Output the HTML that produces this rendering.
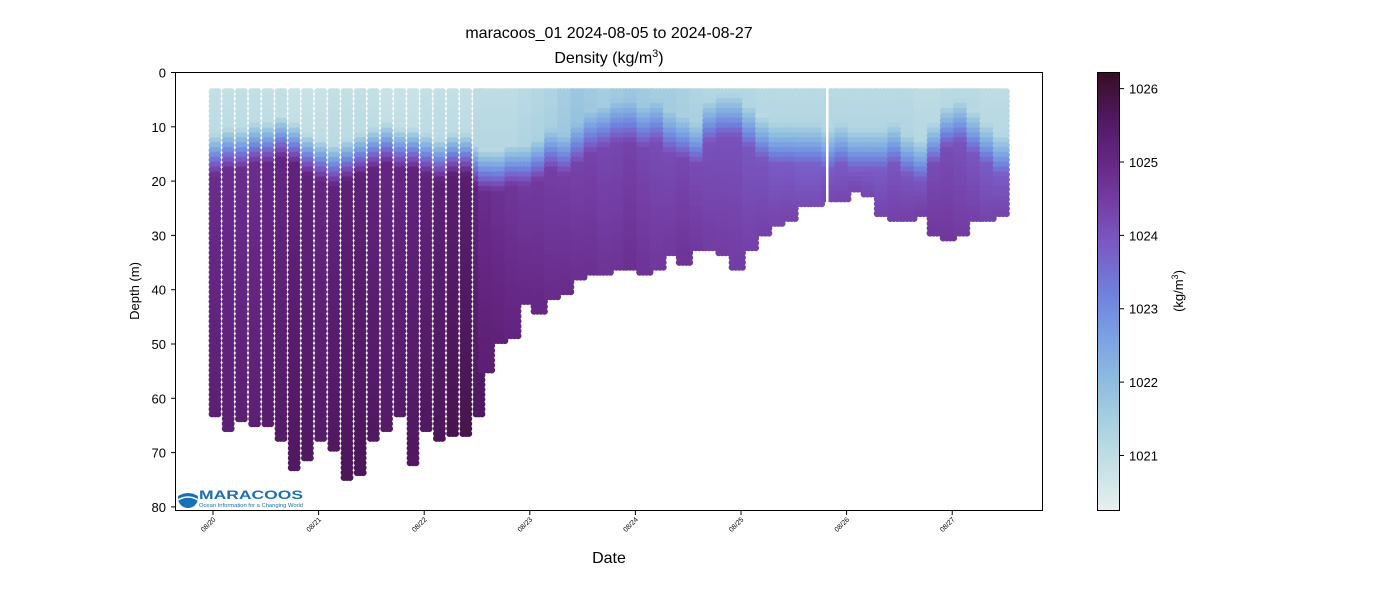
<!DOCTYPE html>
<html><head><meta charset="utf-8"><style>
html,body{margin:0;padding:0;background:#fff;}
svg{display:block;font-family:"Liberation Sans","DejaVu Sans",sans-serif;}
</style></head><body>
<svg id="chart" width="1400" height="600" viewBox="0 0 1400 600" xmlns="http://www.w3.org/2000/svg">
<defs>
<linearGradient id="cbgrad" x1="0" y1="1" x2="0" y2="0">
<stop offset="0" stop-color="#e6f0f0"/><stop offset="0.1" stop-color="#c7e1e6"/>
<stop offset="0.2" stop-color="#a9d0e0"/><stop offset="0.3" stop-color="#8dbbdf"/>
<stop offset="0.4" stop-color="#7aa0e2"/><stop offset="0.5" stop-color="#6f80dc"/>
<stop offset="0.6" stop-color="#7a5cc6"/><stop offset="0.7" stop-color="#743fa6"/>
<stop offset="0.8" stop-color="#652683"/><stop offset="0.9" stop-color="#4f185f"/>
<stop offset="1" stop-color="#360e24"/></linearGradient>
<clipPath id="plotclip"><rect x="176" y="72.5" width="867" height="438"/></clipPath>
</defs>
<text x="609" y="38" font-size="16" text-anchor="middle">maracoos_01 2024-08-05 to 2024-08-27</text>
<text x="609" y="63" font-size="16" text-anchor="middle">Density (kg/m<tspan font-size="11" dy="-6">3</tspan><tspan dy="6">)</tspan></text>
<g id="points" clip-path="url(#plotclip)"></g>
<rect x="175.5" y="72.5" width="867" height="438" fill="none" stroke="#000" stroke-width="1"/>
<g id="yaxis"></g>
<g id="xaxis"></g>
<text transform="translate(139,291) rotate(-90)" font-size="13" text-anchor="middle">Depth (m)</text>
<text x="609" y="563" font-size="16" text-anchor="middle">Date</text>
<g>
<circle cx="188" cy="498" r="10" fill="#1a6fb5"/>
<path d="M178,496 Q188,490 198,496 L198,491 Q188,485 178,491Z" fill="#fff"/>
<path d="M178,500 Q188,494 198,500" stroke="#fff" stroke-width="1.5" fill="none"/>
<text x="199" y="499" font-size="12" font-weight="bold" fill="#1a6fb5" textLength="104" lengthAdjust="spacingAndGlyphs">MARACOOS</text>
<text x="199" y="507" font-size="5" fill="#1a6fb5" textLength="104" lengthAdjust="spacingAndGlyphs">Ocean Information for a Changing World</text>
</g>
<rect x="1097.5" y="72.5" width="22" height="438" fill="url(#cbgrad)" stroke="#000" stroke-width="1"/>
<g id="cbaxis"></g>
<text transform="translate(1183,291) rotate(-90)" font-size="13" text-anchor="middle">(kg/m<tspan font-size="9" dy="-5">3</tspan><tspan dy="5">)</tspan></text>
</svg>
<script>
// profile times in days after 08/20
const profileDays = [0,0.125,0.25,0.375,0.5,0.625,0.75,0.875,1,1.125,1.25,1.375,1.5,1.625,1.75,1.875,2,2.125,2.25,2.375,2.5,2.625,2.75,2.875,3,3.125,3.25,3.375,3.5,3.625,3.75,3.875,4,4.125,4.25,4.375,4.5,4.625,4.75,4.875,5,5.125,5.25,5.375,5.5,5.625,5.75,5.875,6,6.125,6.25,6.375,6.5,6.625,6.75,6.875,7,7.125,7.25,7.375,7.5];
const maxDepth = [63,66,64,65,65,68,73,71,68,70,75,74,68,66,63,72,66,68,67,67,63,55,50,49,43,44,42,41,38,37,37,36,36,37,36,34,35,33,33,34,36,33,30,28,27,25,25,24,24,22,23,26,27,27,26,30,31,30,27,27,26];
const mixedDepth = [14,13,13,12,12,11,12,14,15,16,15,14,13,12,13,13,14,15,14,14,16,17,17,16,16,15,13,14,12,10,9,8,8,9,8,10,11,12,8,7,7,9,11,12,12,12,12,13,12,13,13,13,12,14,15,12,9,8,10,12,14];
const surfDens = [1020.9,1020.9,1020.9,1020.9,1020.9,1020.9,1020.8,1020.8,1020.8,1020.9,1020.9,1020.9,1020.9,1020.8,1020.8,1020.8,1020.9,1020.9,1020.9,1020.9,1021.0,1021.0,1021.0,1021.0,1021.1,1021.2,1021.3,1021.5,1021.7,1021.6,1021.5,1021.6,1021.7,1021.6,1021.5,1021.5,1021.4,1021.3,1021.2,1021.2,1021.2,1021.2,1021.1,1021.1,1021.1,1021.1,1021.1,1021.1,1021.1,1021.1,1021.1,1021.1,1021.1,1021.1,1021.0,1021.0,1021.1,1021.1,1021.1,1021.0,1021.0];
const deepDens = [1025.3,1025.3,1025.3,1025.3,1025.4,1025.5,1025.6,1025.6,1025.5,1025.6,1025.7,1025.7,1025.6,1025.5,1025.5,1025.6,1025.6,1025.7,1025.8,1025.8,1025.6,1025.3,1025.2,1025.1,1025.0,1025.0,1024.9,1024.9,1024.8,1024.8,1024.7,1024.7,1024.8,1024.7,1024.6,1024.6,1024.7,1024.6,1024.5,1024.5,1024.5,1024.4,1024.4,1024.3,1024.3,1024.2,1024.2,1024.3,1024.3,1024.3,1024.3,1024.3,1024.4,1024.4,1024.4,1024.6,1024.6,1024.5,1024.4,1024.3,1024.3];
const dateTicks = ["08/20","08/21","08/22","08/23","08/24","08/25","08/26","08/27"];
const depthTicks = [0,10,20,30,40,50,60,70,80];
const cbTicks = [1021,1022,1023,1024,1025,1026];

const NS="http://www.w3.org/2000/svg";
const xScale = d => 213 + d*105.6;
const yScale = z => 72.5 + z*5.43;
const vmin=1020.25, vmax=1026.22;
const cbScale = v => 510.5 - (v-vmin)/(vmax-vmin)*438;
const stops=[[0,[230,240,240]],[0.1,[199,225,230]],[0.2,[169,208,224]],[0.3,[141,187,223]],[0.4,[122,160,226]],[0.5,[111,128,220]],[0.6,[122,92,198]],[0.7,[116,63,166]],[0.8,[101,38,131]],[0.9,[79,24,95]],[1,[54,14,36]]];
function cmap(v){
  let t=Math.max(0,Math.min(1,(v-vmin)/(vmax-vmin)));
  for(let i=1;i<stops.length;i++){ if(t<=stops[i][0]){const a=stops[i-1],b=stops[i];const f=(t-a[0])/(b[0]-a[0]);
    const c=a[1].map((x,k)=>Math.round(x+(b[1][k]-x)*f));return `rgb(${c[0]},${c[1]},${c[2]})`;}}
  return 'rgb(54,14,36)';
}
function densAt(i,z){
  const m=mixedDepth[i], s=surfDens[i], d=deepDens[i], mx=maxDepth[i];
  const top=d-0.45;
  if(z<m-3) return s+(z-3)*0.02;
  if(z<m+5){const f=(z-(m-3))/8;return s+(top-s)*f;}
  const f=Math.min(1,(z-m-5)/Math.max(1,mx-m-5));
  return top+(d-top)*f;
}
const g=document.getElementById('points');
let frag=document.createDocumentFragment();
profileDays.forEach((day,i)=>{
  const offs = day<2.6 ? [-1,2,5] : [-9,-5.5,-2,1.5];
  offs.forEach(o=>{
    const cx=xScale(day)+o;
    for(let z=3.5; z<=maxDepth[i]; z+=0.9){
      const c=document.createElementNS(NS,'circle');
      c.setAttribute('cx',cx.toFixed(1));c.setAttribute('cy',yScale(z).toFixed(1));
      c.setAttribute('r','3.4');c.setAttribute('fill',cmap(densAt(i,z)));
      frag.appendChild(c);
    }
  });
});
g.appendChild(frag);
const gap=document.createElementNS(NS,'rect');


gap.setAttribute('x',826);gap.setAttribute('y',72.5);gap.setAttribute('width',2.5);gap.setAttribute('height',160);gap.setAttribute('fill','#fff');
g.appendChild(gap);

const ya=document.getElementById('yaxis');
depthTicks.forEach(v=>{
  const y=yScale(v);
  const l=document.createElementNS(NS,'line');
  
  
  l.setAttribute('x1',171);l.setAttribute('x2',175.5);l.setAttribute('y1',y);l.setAttribute('y2',y);l.setAttribute('stroke','#000');
  ya.appendChild(l);
  const t=document.createElementNS(NS,'text');
  
  
  t.setAttribute('x',166);t.setAttribute('y',y+5);t.setAttribute('font-size','13');t.setAttribute('text-anchor','end');
  t.textContent=v;ya.appendChild(t);
});
const xa=document.getElementById('xaxis');
dateTicks.forEach((s,i)=>{
  const x=xScale(i);
  const l=document.createElementNS(NS,'line');
  
  
  l.setAttribute('x1',x);l.setAttribute('x2',x);l.setAttribute('y1',510.5);l.setAttribute('y2',515);l.setAttribute('stroke','#000');
  xa.appendChild(l);
  const t=document.createElementNS(NS,'text');
  
  
  t.setAttribute('transform',`translate(${x+3},${520}) rotate(-45)`);t.setAttribute('font-size','7');t.setAttribute('text-anchor','end');
  t.textContent=s;xa.appendChild(t);
});
const ca=document.getElementById('cbaxis');
cbTicks.forEach(v=>{
  const y=cbScale(v);
  const l=document.createElementNS(NS,'line');
  
  
  l.setAttribute('x1',1119.5);l.setAttribute('x2',1124);l.setAttribute('y1',y);l.setAttribute('y2',y);l.setAttribute('stroke','#000');
  ca.appendChild(l);
  const t=document.createElementNS(NS,'text');
  
  
  t.setAttribute('x',1129);t.setAttribute('y',y+5);t.setAttribute('font-size','13');
  t.textContent=v;ca.appendChild(t);
});
</script>
</body></html>
